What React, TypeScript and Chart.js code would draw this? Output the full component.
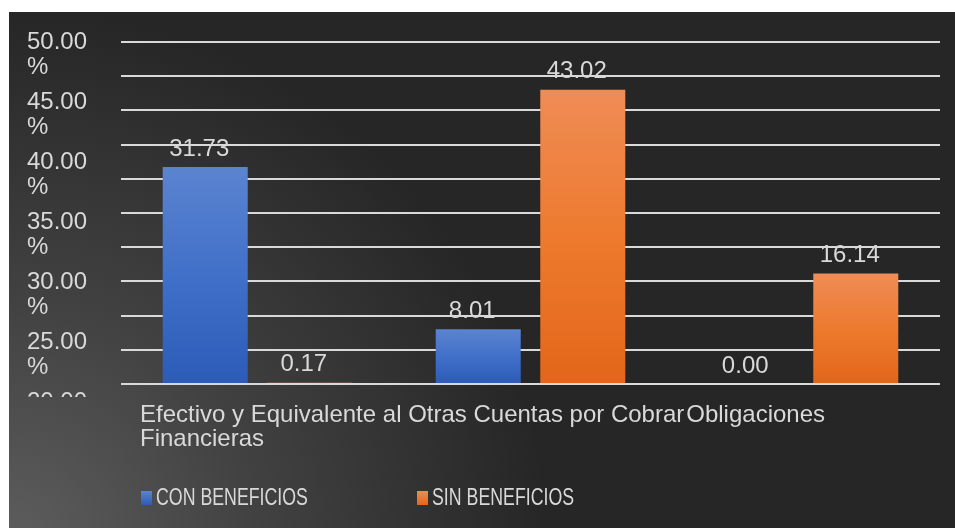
import React, { useEffect, useRef } from "react";
import { Chart, registerables } from "chart.js";

Chart.register(...registerables);

const categories = ["Efectivo y Equivalente al", "Otras Cuentas por Cobrar", "Obligaciones Financieras"];
const seriesNames = ["CON BENEFICIOS", "SIN BENEFICIOS"];
const conBeneficios = [31.73, 8.01, 0.0];
const sinBeneficios = [0.17, 43.02, 16.14];
const yTickLabels = ["50.00", "45.00", "40.00", "35.00", "30.00", "25.00", "20.00", "15.00", "10.00", "5.00", "0.00"];

const FONT = "'Liberation Sans', Arial, sans-serif";
const TEXT = "#d9d9d9";
const W = 946;
const H = 516;

const BLUE = { top: "#5b84d0", bottom: "#2c5bb8", solid: "#4170c9" };
const ORANGE = { top: "#ef8c56", bottom: "#e3661a", solid: "#ed7a2e" };

function barGradient(c: { top: string; bottom: string; solid: string }) {
  return (ctx: any) => {
    const chart = ctx.chart;
    if (!chart.chartArea || ctx.type !== "data" || !chart.scales.y) return c.bottom;
    const ys = chart.scales.y;
    const v = ctx.raw as number;
    const yTop = ys.getPixelForValue(v);
    const yBase = ys.getPixelForValue(0);
    if (!isFinite(yTop) || Math.abs(yBase - yTop) < 1) return c.bottom;
    const g = chart.ctx.createLinearGradient(0, yTop, 0, yBase);
    g.addColorStop(0, c.top);
    g.addColorStop(0.5, c.solid);
    g.addColorStop(1, c.bottom);
    return g;
  };
}

const backgroundPlugin = {
  id: "bg",
  beforeDraw(chart: any) {
    const { ctx, width, height } = chart;
    ctx.save();
    const g = ctx.createRadialGradient(0, height + 20, 0, 0, height + 20, 540);
    g.addColorStop(0, "#5e5e5e");
    g.addColorStop(0.45, "#424242");
    g.addColorStop(1, "#262626");
    ctx.fillStyle = "#262626";
    ctx.fillRect(0, 0, width, height);
    ctx.fillStyle = g;
    ctx.fillRect(0, 0, width, height);
    ctx.restore();
  },
};

const textPlugin = {
  id: "texts",
  afterDraw(chart: any) {
    const { ctx, chartArea } = chart;
    ctx.save();
    ctx.fillStyle = TEXT;
    ctx.font = `24px ${FONT}`;
    ctx.textBaseline = "middle";

    // Y axis labels (wrapped, clipped like the original)
    ctx.save();
    ctx.beginPath();
    ctx.rect(0, 0, chartArea.left, chartArea.bottom + 13);
    ctx.clip();
    ctx.textAlign = "left";
    yTickLabels.forEach((t, i) => {
      const y = chartArea.top + i * 60;
      ctx.fillText(t, 18, y);
      ctx.fillText("%", 18, y + 25);
    });
    ctx.restore();

    // X axis category labels (flowed text)
    ctx.textAlign = "left";
    const x0 = chartArea.left + 19;
    const y1 = chartArea.bottom + 31;
    const y2 = y1 + 24;
    const lastWords = categories[2].split(" ");
    const line1 = [categories[0] + " ", categories[1], lastWords[0]];
    let x = x0;
    line1.forEach((seg, i) => {
      ctx.fillText(seg, x, y1);
      x += ctx.measureText(seg).width + (i === 1 ? 2 : 0);
    });
    ctx.fillText(lastWords.slice(1).join(" "), x0, y2);

    // Data labels
    ctx.textAlign = "center";
    chart.data.datasets.forEach((ds: any, di: number) => {
      const meta = chart.getDatasetMeta(di);
      meta.data.forEach((bar: any, i: number) => {
        const v = ds.data[i] as number;
        ctx.fillText(v.toFixed(2), bar.x - 6, bar.y - 18);
      });
    });

    // Legend (condensed text)
    const colors = [BLUE, ORANGE];
    ctx.textAlign = "left";
    ctx.font = `24px ${FONT}`;
    seriesNames.forEach((name, i) => {
      const bx = 132 + i * 276;
      const by = chartArea.bottom + 107;
      const g = ctx.createLinearGradient(0, by, 0, by + 14);
      g.addColorStop(0, colors[i].top);
      g.addColorStop(1, colors[i].bottom);
      ctx.fillStyle = g;
      ctx.fillRect(bx, by, 11, 14);
      ctx.fillStyle = TEXT;
      ctx.save();
      ctx.translate(bx + 15, by + 7.5);
      ctx.scale(0.74, 1);
      ctx.fillText(name, 0, 0);
      ctx.restore();
    });
    ctx.restore();
  },
};

export default function App() {
  const ref = useRef<HTMLCanvasElement | null>(null);
  useEffect(() => {
    document.body.style.overflow = "hidden";
    if (!ref.current) return;
    const chart = new Chart(ref.current, {
      type: "bar",
      data: {
        labels: categories,
        datasets: [
          {
            label: seriesNames[0],
            data: conBeneficios,
            backgroundColor: barGradient(BLUE) as any,
            categoryPercentage: 0.766,
            barPercentage: 0.813,
          },
          {
            label: seriesNames[1],
            data: sinBeneficios,
            backgroundColor: barGradient(ORANGE) as any,
            categoryPercentage: 0.766,
            barPercentage: 0.813,
          },
        ],
      },
      options: {
        responsive: false,
        animation: false,
        layout: { padding: { left: 112, right: 15, top: 30, bottom: 144 } },
        plugins: { legend: { display: false }, tooltip: { enabled: false } },
        scales: {
          x: { display: false },
          y: {
            min: 0,
            max: 50,
            ticks: { display: false, stepSize: 5 },
            grid: { color: "#d9d9d9", lineWidth: 2, drawTicks: false },
            border: { display: false },
          },
        },
      },
      plugins: [backgroundPlugin, textPlugin],
    });
    return () => chart.destroy();
  }, []);
  return (
    <div style={{ position: "fixed", left: 9, top: 12, width: W, height: H }}>
      <canvas ref={ref} width={W} height={H} style={{ display: "block", width: W, height: H }} />
    </div>
  );
}
